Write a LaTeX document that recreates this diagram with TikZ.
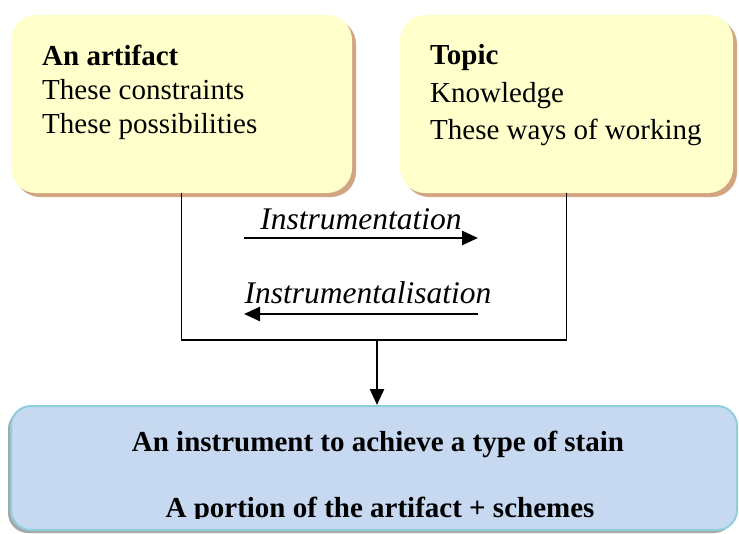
\documentclass[tikz,border=0pt]{standalone}
\usepackage{fontspec}
\setmainfont{Liberation Serif}
\usetikzlibrary{arrows.meta,shadows}

\definecolor{notepad}{RGB}{255,255,204}
\definecolor{notetan}{RGB}{210,165,130}
\definecolor{resultfill}{RGB}{198,217,240}
\definecolor{resultedge}{RGB}{146,205,221}

\tikzset{
  notebox/.style={fill=notepad,rounded corners=25pt,inner sep=0pt,minimum height=178pt,
    drop shadow={shadow xshift=4pt,shadow yshift=-4pt,fill=notetan,opacity=1}},
  resultbox/.style={fill=resultfill,draw=resultedge,line width=2pt,rounded corners=20pt,
    inner sep=0pt,minimum width=726pt,minimum height=124pt,
    drop shadow={shadow xshift=-3pt,shadow yshift=-3pt,fill=gray!70,opacity=1}},
  notetext/.style={inner sep=0pt,align=left,anchor=north west,font=\fontsize{29}{34}\selectfont},
  resulttext/.style={inner sep=0pt,anchor=base,font=\fontsize{29}{34}\selectfont\bfseries},
  flowlabel/.style={inner sep=0pt,anchor=base,font=\fontsize{31.5}{36}\selectfont\itshape},
  flow/.style={line width=2.5pt,-{Triangle[length=16pt,width=14pt]}},
  bracket/.style={line width=1.3pt}
}

\begin{document}
\begin{tikzpicture}[x=1pt,y=-1pt]
  \useasboundingbox (0,0) rectangle (739,533);

  % the two starting boxes
  \node[notebox,minimum width=341pt] (artifact) at (181.5,104) {};
  \node[notebox,minimum width=333pt] (topic)    at (566.5,104) {};
  \node[notetext] (artifacttxt) at (42,44.5)
    {\textbf{An artifact}\\These constraints\\These possibilities};
  \node[notetext,font=\fontsize{29}{37.5}\selectfont] (topictxt) at (430,44.5)
    {\textbf{Topic}\\Knowledge\\These ways of working};

  % the two processes
  \coordinate (base) at (0,340);
  \draw[bracket] (artifact.south) -- (artifact.south |- base)
    -- (topic.south |- base) -- (topic.south);
  \coordinate (fwdA) at (244,238);
  \coordinate (fwdB) at (478,238);
  \coordinate (bwdA) at (478,314);
  \coordinate (bwdB) at (244,314);
  \draw[flow] (fwdA) -- (fwdB);
  \draw[flow] (bwdA) -- (bwdB);
  \node[flowlabel] (fwdlbl) at (361,229) {Instrumentation};
  \node[flowlabel] (bwdlbl) at (368,303) {Instrumentalisation};

  % the result
  \node[resultbox] (result) at (374,468) {};
  \coordinate (join) at (377,340);
  \draw[flow] (join) -- (join |- result.north);
  \node[resulttext] (resulta) at (378,451) {An instrument to achieve a type of stain};
  \begin{scope}
    \clip (0,0) rectangle (739,518);
    \node[resulttext] (resultb) at (380,517) {A portion of the artifact + schemes};
  \end{scope}
\end{tikzpicture}
\end{document}
